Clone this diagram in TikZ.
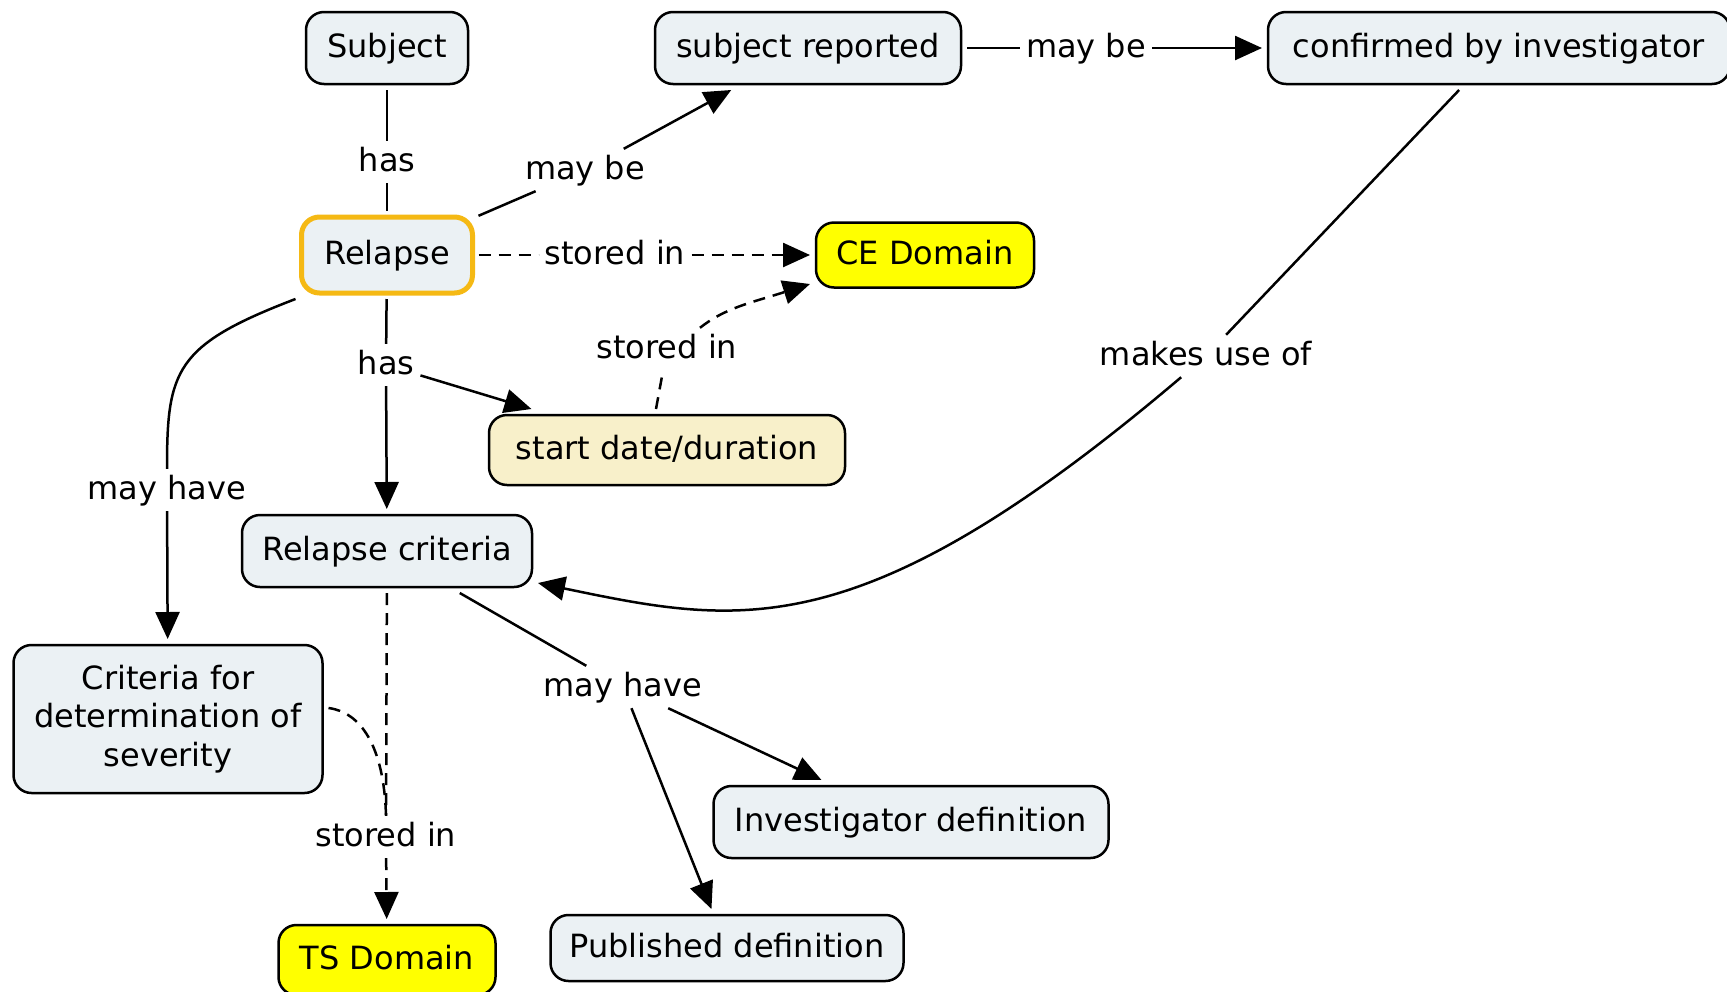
\documentclass[tikz,border=0pt]{standalone}
\usepackage{fontspec}
\setmainfont{DejaVu Sans}
\usetikzlibrary{arrows.meta,calc}

\definecolor{cfill}{RGB}{235,241,244}
\definecolor{corange}{RGB}{245,185,20}
\definecolor{cyellow}{RGB}{255,255,0}
\definecolor{ccream}{RGB}{248,240,202}

\newcommand\mapfont{\fontsize{32pt}{38.5pt}\selectfont}

\begin{document}
\begin{tikzpicture}[x=1pt,y=-1pt,
  concept/.style={draw=black, line width=2.5pt, rounded corners=18pt,
    fill=cfill, font=\mapfont, inner sep=0pt, outer sep=6pt, minimum height=72pt},
  oneline/.style={text height=24pt, text depth=6pt},
  lnk/.style={font=\mapfont, text height=24pt, text depth=6pt, inner sep=6pt},
  conn/.style={line width=2.5pt, draw=black},
  dashline/.style={dash pattern=on 12pt off 8pt},
  >={Triangle[length=27pt,width=24pt]}]

\useasboundingbox (0,0) rectangle (1727,991);
\fill[white] (0,0) rectangle (1727,991);

% concepts
\node[concept, oneline, minimum width=162pt] (subj) at (387,48) {Subject};
\node[concept, oneline, minimum width=306pt] (rep) at (808,48) {subject reported};
\node[concept, oneline, minimum width=462pt] (conf) at (1499,48) {confirmed by investigator};
\node[concept, oneline, draw=corange, line width=5pt, minimum width=171pt,
      minimum height=76pt] (rel) at (387,255) {Relapse};
\node[concept, oneline, fill=cyellow, minimum width=218pt, minimum height=65pt] (ce) at (925,255) {CE Domain};
\node[concept, oneline, fill=ccream, minimum width=356pt, minimum height=70pt] (sd) at (667,450) {start date/duration};
\node[concept, oneline, minimum width=290pt, minimum height=72pt] (rc) at (387,551) {Relapse criteria};
\node[concept, align=center, minimum width=309pt, minimum height=148pt] (sev) at (168,719)
      {Criteria for\\determination of\\severity};
\node[concept, oneline, fill=cyellow, minimum width=217pt, minimum height=70pt] (ts) at (387,960) {TS Domain};
\node[concept, oneline, minimum width=395pt, minimum height=72pt] (inv) at (911,822) {Investigator definition};
\node[concept, oneline, minimum width=353pt, minimum height=66pt] (pub) at (727,948) {Published definition};

% linking phrases
\node[lnk] (has1) at (387,162) {has};
\node[lnk] (maybe1) at (585,170) {may be};
\node[lnk] (maybe2) at (1086,48) {may be};
\node[lnk] (st1) at (615,255) {stored in};
\node[lnk] (has2) at (386,365) {has};
\node[lnk] (st2) at (667,349) {stored in};
\node[lnk] (mh1) at (167,490) {may have};
\node[lnk] (st3) at (386,837) {stored in};
\node[lnk] (mh2) at (623,687) {may have};
\node[lnk] (uses) at (1206,356) {makes use of};

% connectors
\draw[conn] (subj) -- (has1);
\draw[conn] (has1) -- (rel);

\draw[conn] (rel) -- (maybe1);
\draw[conn,->] (maybe1) -- (rep);

\draw[conn] (rep) -- (maybe2);
\draw[conn,->] (maybe2) -- (conf);

\draw[conn,dashline] (rel) -- (st1);
\draw[conn,dashline,->] (st1) -- (ce);

\draw[conn] (rel) -- (has2);
\draw[conn,->] (has2) -- (rc);
\draw[conn,->] (has2) -- (sd);

\draw[conn,dashline] ([xshift=-11pt]sd.north) -- (st2);
\draw[conn,dashline,->] ([xshift=33pt]st2.north) .. controls (725,308) and (750,303) .. ([yshift=-29pt]ce.west);

\draw[conn] (rel.south west) .. controls (175,345) and (167,370) .. (mh1.north);
\draw[conn,->] (mh1) -- (sev);

\draw[conn,dashline] (rc) -- (st3);
\draw[conn,dashline,->] (st3) -- (ts);
\draw[conn,dashline] ([yshift=11pt]sev.east) .. controls (360,712) and (384,745) .. (st3.north);

\draw[conn] (rc) -- (mh2);
\draw[conn,->] (mh2) -- (inv);
\draw[conn,->] (mh2) -- (pub);

\draw[conn] (conf) -- (uses);
\draw[conn,->] (uses) .. controls (860,650) and (740,625) .. ([yshift=-32pt]rc.east);

\end{tikzpicture}
\end{document}
